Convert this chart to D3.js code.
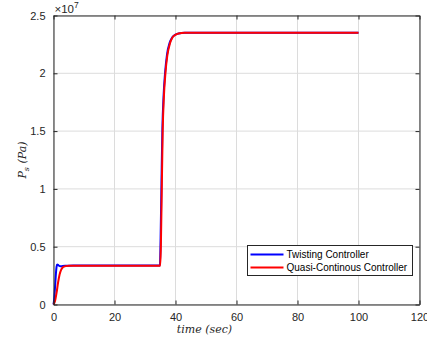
<!DOCTYPE html>
<html>
<head>
<meta charset="utf-8">
<script src="https://cdn.jsdelivr.net/npm/d3@7"></script>
<style>
  html, body { margin: 0; padding: 0; background: #fff; }
  svg { display: block; }
  .tick text { font-family: "Liberation Sans", Arial, sans-serif; font-size: 11px; fill: #262626; }
</style>
</head>
<body>
<svg id="chart" width="427" height="340"></svg>
<script>
// Supply pressure response (Pa) of the two controllers
const tTwisting = [0, 0.2, 0.4, 0.6, 0.8, 1.0, 1.2, 1.5, 1.8, 2.2, 2.6, 3.0, 4.0, 5.0, 10, 20, 30, 34.9,
  35.1, 35.4, 35.7, 36.1, 36.6, 37.2, 38.1, 38.9, 39.7, 41, 43, 50, 70, 100];
const pTwisting = [0, 0.4e6, 1.1e6, 1.9e6, 2.7e6, 3.25e6, 3.45e6, 3.42e6, 3.35e6, 3.3e6, 3.31e6, 3.33e6, 3.35e6, 3.36e6, 3.37e6, 3.37e6, 3.37e6, 3.37e6,
  5.5e6, 1.05e7, 1.52e7, 1.81e7, 2.01e7, 2.16e7, 2.265e7, 2.31e7, 2.33e7, 2.345e7, 2.35e7, 2.35e7, 2.35e7, 2.35e7];

const tQuasi = [0, 0.5, 1.0, 1.5, 2.0, 2.5, 3.0, 3.5, 4.0, 5.0, 10, 20, 30, 35.0,
  35.2, 35.5, 35.8, 36.2, 36.7, 37.3, 38.2, 39.0, 39.8, 41, 43, 50, 70, 100];
const pQuasi = [0, 0.3e6, 1.0e6, 1.9e6, 2.6e6, 3.0e6, 3.2e6, 3.28e6, 3.32e6, 3.35e6, 3.36e6, 3.36e6, 3.36e6, 3.36e6,
  5.0e6, 1.0e7, 1.5e7, 1.8e7, 2.0e7, 2.15e7, 2.26e7, 2.31e7, 2.33e7, 2.345e7, 2.35e7, 2.35e7, 2.35e7, 2.35e7];

const seriesNames = ["Twisting Controller", "Quasi-Continous Controller"];
const seriesColors = ["#0000ff", "#ff0000"];

const xTicks = [0, 20, 40, 60, 80, 100, 120];
const yTicks = [0, 0.5e7, 1e7, 1.5e7, 2e7, 2.5e7];
const yTickLabels = ["0", "0.5", "1", "1.5", "2", "2.5"];

const svg = d3.select("#chart");
const plot = { left: 53.5, right: 419.5, top: 15.5, bottom: 304.5 };

const x = d3.scaleLinear().domain([0, 120]).range([plot.left, plot.right]);
const y = d3.scaleLinear().domain([0, 2.5e7]).range([plot.bottom, plot.top]);

// grid
const grid = svg.append("g");
grid.selectAll(".gx").data(xTicks).join("line")
  .attr("x1", d => x(d)).attr("x2", d => x(d))
  .attr("y1", plot.top).attr("y2", plot.bottom)
  .attr("stroke", "#dcdcdc").attr("stroke-width", 1);
grid.selectAll(".gy").data(yTicks).join("line")
  .attr("y1", d => y(d)).attr("y2", d => y(d))
  .attr("x1", plot.left).attr("x2", plot.right)
  .attr("stroke", "#dcdcdc").attr("stroke-width", 1);

// series
const series = [
  { t: tTwisting, p: pTwisting, color: seriesColors[0] },
  { t: tQuasi, p: pQuasi, color: seriesColors[1] }
];
const line = d3.line().x(d => x(d[0])).y(d => y(d[1])).curve(d3.curveMonotoneX);
// blue first, red on top
series.forEach(s => {
  svg.append("path")
    .datum(s.t.map((t, i) => [t, s.p[i]]))
    .attr("fill", "none")
    .attr("stroke", s.color)
    .attr("stroke-width", 2)
    .attr("stroke-linejoin", "round")
    .attr("d", line);
});

// axes (box with inward ticks)
const tickLen = 4;
const xAxisB = d3.axisBottom(x).tickValues(xTicks).tickSizeInner(-tickLen).tickSizeOuter(0).tickPadding(9);
const xAxisT = d3.axisTop(x).tickValues(xTicks).tickSizeInner(-tickLen).tickSizeOuter(0).tickFormat("");
const yAxisL = d3.axisLeft(y).tickValues(yTicks).tickSizeInner(-tickLen).tickSizeOuter(0).tickPadding(8)
  .tickFormat((d, i) => yTickLabels[i]);
const yAxisR = d3.axisRight(y).tickValues(yTicks).tickSizeInner(-tickLen).tickSizeOuter(0).tickFormat("");

function styleAxis(g) {
  g.select(".domain").attr("stroke", "#262626");
  g.selectAll(".tick line").attr("stroke", "#262626");
}
svg.append("g").attr("transform", `translate(0,${plot.bottom})`).call(xAxisB).call(styleAxis);
svg.append("g").attr("transform", `translate(0,${plot.top})`).call(xAxisT).call(styleAxis);
svg.append("g").attr("transform", `translate(${plot.left},0)`).call(yAxisL).call(styleAxis);
svg.append("g").attr("transform", `translate(${plot.right},0)`).call(yAxisR).call(styleAxis);

// exponent marker
const expo = svg.append("text")
  .attr("x", plot.left + 1).attr("y", 13)
  .attr("font-family", "Liberation Sans, Arial, sans-serif")
  .attr("font-size", 11.5).attr("fill", "#262626");
expo.append("tspan").text("\u00d710");
expo.append("tspan").attr("dy", -5).attr("font-size", 8.5).text("7");

// axis labels
const serif = "DejaVu Serif, Liberation Serif, serif";
svg.append("text")
  .attr("x", (plot.left + plot.right) / 2 - 32).attr("y", 333)
  .attr("text-anchor", "middle").attr("font-family", serif)
  .attr("font-style", "italic").attr("font-size", 11).attr("fill", "#262626")
  .text("time (sec)");

const yl = svg.append("text")
  .attr("transform", `translate(26,${(plot.top + plot.bottom) / 2}) rotate(-90)`)
  .attr("text-anchor", "middle").attr("font-family", serif)
  .attr("font-style", "italic").attr("font-size", 11).attr("fill", "#262626");
yl.append("tspan").text("P");
yl.append("tspan").attr("dy", 3).attr("font-size", 8).text("s");
yl.append("tspan").attr("dy", -3).text(" (Pa)");

// legend
const lg = svg.append("g").attr("transform", "translate(247.5,245.5)");
lg.append("rect").attr("width", 165).attr("height", 30)
  .attr("fill", "#fff").attr("stroke", "#262626").attr("stroke-width", 1);
seriesNames.forEach((name, i) => {
  const yy = 9 + i * 13;
  lg.append("line").attr("x1", 3).attr("x2", 36).attr("y1", yy).attr("y2", yy)
    .attr("stroke", seriesColors[i]).attr("stroke-width", 2);
  lg.append("text").attr("x", 39).attr("y", yy + 3.5)
    .attr("font-family", "Liberation Sans, Arial, sans-serif")
    .attr("font-size", 10).attr("fill", "#000").text(name);
});
</script>
</body>
</html>
